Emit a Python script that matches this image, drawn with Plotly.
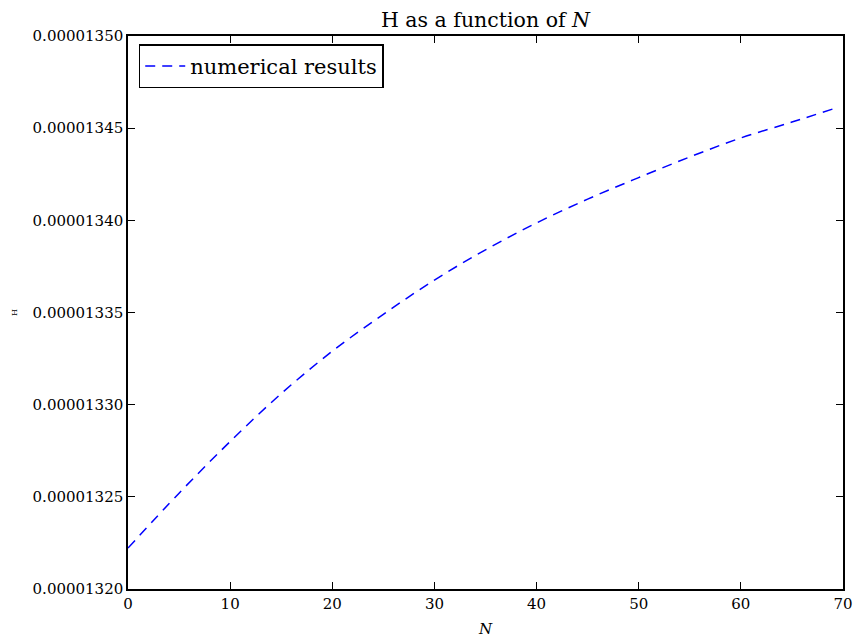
import plotly.graph_objects as go

N_values = [0, 5, 10, 15, 20, 25, 30, 35, 40, 45, 50, 55, 60, 65, 69]
H_values = [1.32222e-5, 1.32520e-5, 1.32800e-5, 1.33060e-5, 1.33290e-5, 1.33490e-5,
            1.33676e-5, 1.33840e-5, 1.33986e-5, 1.34115e-5, 1.34232e-5, 1.34344e-5,
            1.34447e-5, 1.34533e-5, 1.34604e-5]
x_ticks = [0, 10, 20, 30, 40, 50, 60, 70]
y_ticks = [1.320e-5, 1.325e-5, 1.330e-5, 1.335e-5, 1.340e-5, 1.345e-5, 1.350e-5]
y_tick_labels = ["0.00001320", "0.00001325", "0.00001330", "0.00001335",
                 "0.00001340", "0.00001345", "0.00001350"]

FONT = "DejaVu Serif"

fig = go.Figure()
fig.add_trace(go.Scatter(
    x=N_values, y=H_values, mode="lines", name="numerical results",
    line=dict(color="blue", width=1.5, dash="10px,7px", shape="spline"),
))

axis_common = dict(
    showgrid=False, zeroline=False, showline=True, linecolor="black", linewidth=1.5,
    mirror="ticks", ticks="inside", ticklen=7, tickwidth=1, tickcolor="black",
    tickfont=dict(family=FONT, size=15, color="black"), automargin=False,
    ticklabeloverflow="allow",
)

fig.update_layout(
    width=853, height=641,
    margin=dict(l=128, r=10, t=36, b=52, autoexpand=False),
    paper_bgcolor="white", plot_bgcolor="white",
    font=dict(family=FONT, color="black"),
    title=dict(text="H as a function of <i>N</i>", x=0.5, xref="paper",
               y=1, yref="paper", yanchor="bottom", pad=dict(b=9),
               font=dict(family=FONT, size=20.5, color="black")),
    xaxis=dict(range=[0, 70], tickvals=x_ticks, ticktext=[str(v) for v in x_ticks],
               title=dict(text="<i>N</i>", standoff=12, font=dict(family=FONT, size=15)),
               **axis_common),
    yaxis=dict(range=[1.320e-5, 1.350e-5], tickvals=y_ticks, ticktext=y_tick_labels,
               title=dict(text="H", standoff=14, font=dict(family=FONT, size=8)),
               **axis_common),
    showlegend=True,
    legend=dict(x=0.015, y=0.985, xanchor="left", yanchor="top",
                bordercolor="black", borderwidth=1.5, bgcolor="white",
                font=dict(family=FONT, size=21, color="black"),
                itemwidth=40),
)

fig.write_html("out.html",
               config={"displayModeBar": False},
               post_script="document.body.style.margin='0px';document.body.style.overflow='hidden';")
